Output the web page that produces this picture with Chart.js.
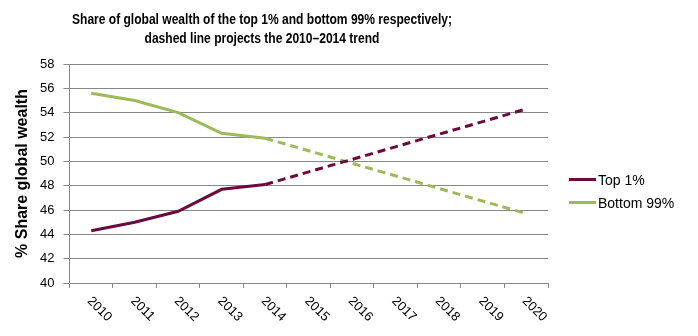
<!DOCTYPE html>
<html lang="en">
<head>
  <meta charset="UTF-8" />
  <title>Share of global wealth</title>
  <script src="https://cdn.jsdelivr.net/npm/chart.js"></script>
  <style>
    body { margin: 0; background: #fff; font-family: "Liberation Sans", Arial, sans-serif; }
    .wrap { position: relative; width: 698px; height: 336px; }
    .heading {
      position: absolute; left: 0; top: 10px; width: 524px;
      text-align: center; font-weight: bold; font-size: 14px; line-height: 19px; color: #000;
      transform: scaleX(0.86); transform-origin: 262px 0;
    }
    .legend { position: absolute; left: 569px; top: 168px; }
    .legend div { display: flex; align-items: center; height: 23px; font-size: 14px; color: #000; }
    .legend span.swatch { display: inline-block; width: 27px; height: 3px; margin-right: 2px; }
  </style>
</head>
<body>
  <div class="wrap">
    <canvas id="chart"></canvas>
    <div class="heading">Share of global wealth of the top 1% and bottom 99% respectively;<br>dashed line projects the 2010–2014 trend</div>
    <div class="legend" id="legend"></div>
  </div>

  <script>
    const years = ['2010', '2011', '2012', '2013', '2014', '2015', '2016', '2017', '2018', '2019', '2020'];

    // observed shares, 2010-2014
    const top1 = [44.3, 45.0, 45.9, 47.7, 48.1, null, null, null, null, null, null];
    const bottom99 = [55.6, 55.0, 54.0, 52.3, 51.9, null, null, null, null, null, null];

    // projected trend, 2014 -> 2020
    const top1Trend = [null, null, null, null, 48.1, null, null, null, null, null, 54.3];
    const bottom99Trend = [null, null, null, null, 51.9, null, null, null, null, null, 45.7];

    const yTicks = [40, 42, 44, 46, 48, 50, 52, 54, 56, 58];

    const maroon = '#6b0a3e';
    const green = '#9bbb59';
    const gridColor = '#878787';
    const font = '"Liberation Sans", Arial, sans-serif';

    // x labels are drawn slanted downwards to the right
    const slantedLabels = {
      id: 'slantedLabels',
      afterDraw(chart) {
        const scale = chart.scales.x;
        const ctx = chart.ctx;
        ctx.save();
        ctx.font = '13px ' + font;
        ctx.fillStyle = '#000';
        ctx.textAlign = 'left';
        ctx.textBaseline = 'middle';
        years.forEach((y, i) => {
          const x = scale.getPixelForTick(i);
          ctx.save();
          ctx.translate(x - 2, scale.bottom + 11);
          ctx.rotate(Math.PI / 4);
          ctx.fillText(y, 0, 0);
          ctx.restore();
        });
        ctx.restore();
      }
    };

    const chart = new Chart(document.getElementById('chart'), {
      type: 'line',
      data: {
        labels: years,
        datasets: [
          { label: 'Top 1%', data: top1, borderColor: maroon, borderWidth: 3 },
          { label: 'Bottom 99%', data: bottom99, borderColor: green, borderWidth: 3 },
          { label: 'Top 1% trend', data: top1Trend, borderColor: maroon, borderWidth: 3, borderDash: [8, 5], spanGaps: true },
          { label: 'Bottom 99% trend', data: bottom99Trend, borderColor: green, borderWidth: 3, borderDash: [8, 5], spanGaps: true }
        ]
      },
      options: {
        responsive: true,
        maintainAspectRatio: false,
        animation: false,
        layout: { padding: { top: 64, right: 150, bottom: 48, left: 15 } },
        elements: { point: { radius: 0 }, line: { tension: 0 } },
        plugins: {
          legend: { display: false },
          tooltip: { enabled: false }
        },
        scales: {
          x: {
            offset: true,
            grid: { offset: true, drawOnChartArea: false, color: gridColor, tickLength: 5 },
            border: { color: gridColor },
            ticks: { display: false }
          },
          y: {
            min: 40,
            max: 58,
            afterBuildTicks: axis => { axis.ticks = yTicks.map(v => ({ value: v })); },
            grid: { color: gridColor, tickLength: 6 },
            border: { color: gridColor },
            ticks: { color: '#000', padding: 9, font: { size: 13, family: font } },
            title: {
              display: true,
              text: '% Share global wealth',
              color: '#000',
              padding: 0,
              font: { size: 16, weight: 'bold', lineHeight: 1, family: font }
            }
          }
        }
      },
      plugins: [slantedLabels]
    });

    // legend rows for the two observed series
    const legendEl = document.getElementById('legend');
    chart.data.datasets.slice(0, 2).forEach(ds => {
      const row = document.createElement('div');
      row.innerHTML = `<span class="swatch" style="background:${ds.borderColor}"></span>${ds.label}`;
      legendEl.appendChild(row);
    });
  </script>
</body>
</html>
